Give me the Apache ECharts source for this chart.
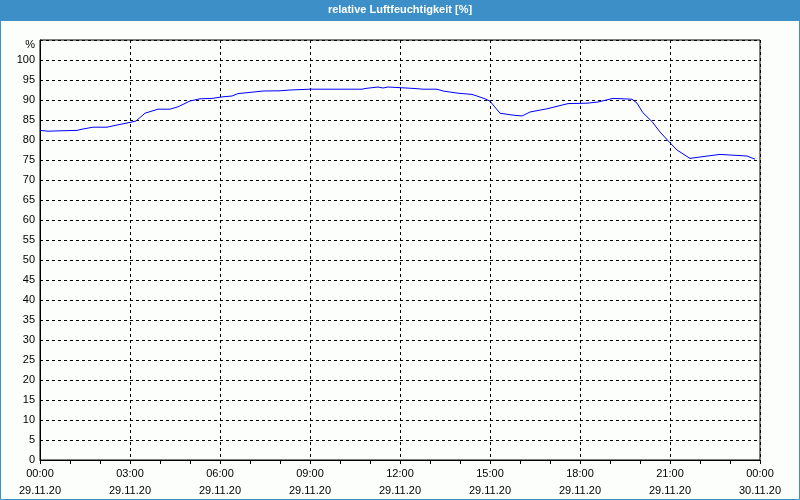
<!DOCTYPE html>
<html>
<head>
<meta charset="utf-8">
<script src="https://cdn.jsdelivr.net/npm/echarts@6/dist/echarts.min.js"></script>
<style>
html,body{margin:0;padding:0;background:#fff;}
#c{width:800px;height:500px;}
</style>
</head>
<body>
<div id="c"></div>
<script>
// Sample times (HH:MM, 29.11.20) and relative humidity values [%]
var times = ["00:00","00:16","00:40","01:14","01:26","01:46","02:14","02:34","03:00","03:12","03:30","03:56","04:20","04:36","05:00","05:20","05:44","06:06","06:24","06:36","07:00","07:26","08:00","08:20","09:00","10:44","10:52","11:16","11:26","11:36","12:26","12:46","13:14","13:26","13:56","14:24","14:36","14:50","15:00","15:20","15:44","16:04","16:20","16:54","17:36","18:14","18:36","19:06","19:44","19:54","20:06","20:24","20:40","21:00","21:14","21:40","22:00","22:40","23:06","23:34","23:50"];
var humidity = [82.4,82.2,82.3,82.4,82.75,83.2,83.2,83.75,84.4,84.75,86.7,87.7,87.7,88.3,89.75,90.3,90.4,90.8,91.0,91.6,91.9,92.25,92.3,92.5,92.7,92.7,92.9,93.25,93.0,93.25,92.9,92.7,92.7,92.25,91.7,91.4,90.9,90.3,89.7,86.7,86.25,86.0,87.0,87.8,89.1,89.2,89.5,90.4,90.2,89.2,86.8,84.6,82.0,79.3,77.5,75.4,75.75,76.4,76.2,76.0,75.2];
var xTickLabels = ["00:00\n29.11.20","03:00\n29.11.20","06:00\n29.11.20","09:00\n29.11.20","12:00\n29.11.20","15:00\n29.11.20","18:00\n29.11.20","21:00\n29.11.20","00:00\n30.11.20"];
var titleText = "relative Luftfeuchtigkeit [%]";

function toHours(t){var p=t.split(':');return (+p[0])+(+p[1])/60;}
var seriesData = times.map(function(t,i){return [toHours(t), humidity[i]];});

var chart = echarts.init(document.getElementById('c'), null, {renderer:'canvas'});
var font = '"Liberation Sans", Arial, sans-serif';
chart.setOption({
  backgroundColor:'#fcfefc',
  animation:false,
  graphic:[
    {type:'rect', shape:{x:0,y:0,width:800,height:21}, style:{fill:'#3c8fc7'}, z:10},
    {type:'rect', shape:{x:0.5,y:0.5,width:799,height:499}, style:{fill:null, stroke:'#3c8fc7', lineWidth:1}, z:10},
    {type:'text', left:'center', top:4, style:{text:titleText, fill:'#ffffff', font:'bold 11px '+font}, z:11}
  ],
  grid:{left:40,right:40,top:40,bottom:40,outerBoundsMode:'none',containLabel:false,show:true,borderColor:'#000',borderWidth:1,backgroundColor:'transparent'},
  xAxis:{
    type:'value', min:0, max:24, interval:3,
    axisLine:{show:true,lineStyle:{color:'#000',width:1}},
    axisTick:{show:true,length:4,lineStyle:{color:'#000'}},
    minorTick:{show:true,splitNumber:3,length:4,lineStyle:{color:'#000'}},
    axisLabel:{color:'#000',fontSize:11,fontFamily:font,margin:5,lineHeight:17,
      formatter:function(v){return xTickLabels[Math.round(v/3)];}},
    splitLine:{show:true,lineStyle:{color:'#000',type:[3,3],width:1}}
  },
  yAxis:{
    type:'value', min:0, max:105, interval:5,
    axisLine:{show:true,lineStyle:{color:'#000',width:1}},
    axisTick:{show:false},
    axisLabel:{color:'#000',fontSize:11,fontFamily:font,margin:5,
      formatter:function(v){return v===105?'{p|%}':String(v);},
      rich:{p:{color:'#000',fontSize:11,fontFamily:font,padding:[9,0,0,0]}}},
    splitLine:{show:true,lineStyle:{color:'#000',type:[3,3],width:1}}
  },
  series:[{
    type:'line', data:seriesData, showSymbol:false, symbol:'none',
    lineStyle:{color:'#0000ff',width:1}, smooth:false
  }]
});
</script>
</body>
</html>
